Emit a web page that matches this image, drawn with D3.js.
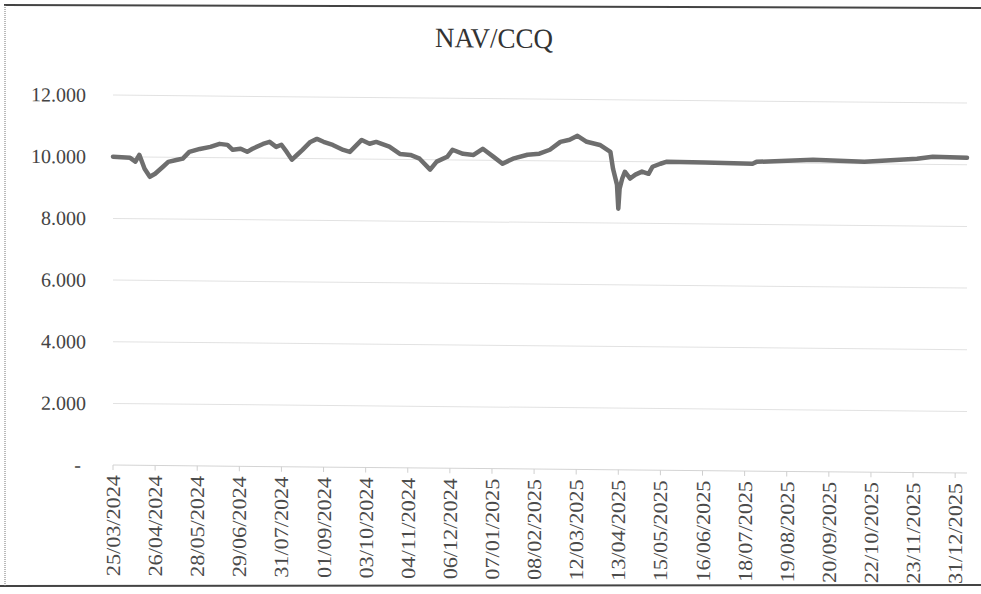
<!DOCTYPE html>
<html>
<head>
<meta charset="utf-8">
<script src="https://d3js.org/d3.v7.min.js"></script>
<style>
  body { margin: 0; background: #fff; }
  svg text { font-family: "Liberation Serif", "Times New Roman", serif; }
</style>
</head>
<body>
<script>
// x axis: one category per day, a label every 32 categories
var tickLabels = ["25/03/2024","26/04/2024","28/05/2024","29/06/2024","31/07/2024",
                  "01/09/2024","03/10/2024","04/11/2024","06/12/2024","07/01/2025",
                  "08/02/2025","12/03/2025","13/04/2025","15/05/2025","16/06/2025",
                  "18/07/2025","19/08/2025","20/09/2025","22/10/2025","23/11/2025",
                  "31/12/2025"];
var tickIdx = [0,32,64,96,128,160,192,224,256,288,320,352,384,416,448,480,512,544,576,608,640];
var yTicks = [0,2000,4000,6000,8000,10000,12000];

// NAV per fund certificate (category index, value)
var navIdx = [0,13,17,20,24,28,32,38,42,49,53,58,66,74,81,87,91,97,102,106,
              114,119,124,128,132,136,140,144,150,155,160,167,175,180,189,195,200,210,218,226,
              233,241,246,254,258,266,274,281,289,296,304,315,324,332,340,347,353,360,370,378,
              380,383,384,385,387,389,393,397,402,407,410,416,421,450,486,489,532,571,611,623,649];
var navVal = [10000,9970,9850,10070,9620,9360,9460,9690,9850,9920,9960,10180,10280,10350,10450,10420,10260,10300,10200,10300,
              10460,10530,10370,10440,10210,9960,10120,10280,10540,10640,10550,10450,10290,10230,10620,10500,10560,10410,10180,10150,
              10030,9680,9940,10100,10330,10200,10170,10370,10120,9890,10060,10190,10230,10360,10620,10690,10820,10630,10530,10310,
              9760,9250,8470,9120,9450,9670,9450,9580,9680,9610,9840,9940,10010,9990,9970,10030,10120,10070,10180,10250,10230];

(function(){
  var W = 981, H = 594;
  var pLeft = 113, pRight = 967, pTop = 95, pBottom = 465;

  var svg = d3.select("body").append("svg")
      .attr("width", W).attr("height", H);

  // frame of the scan
  svg.append("line").attr("x1", 4).attr("x2", 981).attr("y1", 5).attr("y2", 8)
    .attr("stroke", "#444").attr("stroke-width", 2);
  svg.append("line").attr("x1", 0).attr("x2", 981).attr("y1", 586).attr("y2", 585)
    .attr("stroke", "#444").attr("stroke-width", 2);
  svg.append("line").attr("x1", 5).attr("x2", 5).attr("y1", 5).attr("y2", 586)
    .attr("stroke", "#777").attr("stroke-width", 1).attr("stroke-dasharray", "1,1");

  // scanned page is slightly slanted
  var g = svg.append("g").attr("transform", "translate(0,-1) skewY(0.54)");

  var x = d3.scaleLinear().domain([0, 649]).range([pLeft, pRight]);
  var y = d3.scaleLinear().domain([0, 12000]).range([pBottom, pTop]);

  var fmt = d3.formatLocale({decimal: ",", thousands: ".", grouping: [3], currency: ["", ""]}).format(",");

  // title
  g.append("text")
    .attr("x", 494).attr("y", 44)
    .attr("text-anchor", "middle")
    .attr("font-size", 28)
    .attr("textLength", 118).attr("lengthAdjust", "spacingAndGlyphs")
    .attr("fill", "#333")
    .text("NAV/CCQ");

  // gridlines
  g.selectAll(".grid")
    .data(yTicks.filter(function(d){ return d > 0; }))
    .enter().append("line")
    .attr("class", "grid")
    .attr("x1", pLeft).attr("x2", pRight)
    .attr("y1", function(d){ return y(d); })
    .attr("y2", function(d){ return y(d); })
    .attr("stroke", "#e2e2e2").attr("stroke-width", 1);

  // y labels
  g.selectAll(".ylab")
    .data(yTicks)
    .enter().append("text")
    .attr("class", "ylab")
    .attr("x", function(d){ return d === 0 ? 81 : 86; })
    .attr("y", function(d){ return y(d); })
    .attr("dy", "0.35em")
    .attr("text-anchor", "end")
    .attr("font-size", 20)
    .attr("fill", "#444")
    .text(function(d){ return d === 0 ? "-" : fmt(d); });

  // x axis line and ticks
  g.append("line")
    .attr("x1", pLeft).attr("x2", pRight)
    .attr("y1", pBottom).attr("y2", pBottom)
    .attr("stroke", "#d4d4d4").attr("stroke-width", 1);

  g.selectAll(".xtick")
    .data(tickIdx)
    .enter().append("line")
    .attr("class", "xtick")
    .attr("x1", function(d){ return x(d); })
    .attr("x2", function(d){ return x(d); })
    .attr("y1", pBottom).attr("y2", pBottom + 5)
    .attr("stroke", "#cfcfcf");

  g.selectAll(".xlab")
    .data(tickIdx)
    .enter().append("text")
    .attr("class", "xlab")
    .attr("transform", function(d){ return "translate(" + x(d) + "," + (pBottom + 10) + ") rotate(-90)"; })
    .attr("dy", "0.35em")
    .attr("text-anchor", "end")
    .attr("font-size", 20)
    .attr("textLength", 101).attr("lengthAdjust", "spacingAndGlyphs")
    .attr("fill", "#4a4a4a")
    .text(function(d, i){ return tickLabels[i]; });

  // the NAV line
  var pts = navIdx.map(function(d, i){ return [d, navVal[i]]; });
  var line = d3.line()
    .x(function(d){ return x(d[0]); })
    .y(function(d){ return y(d[1]); });

  g.append("path")
    .datum(pts)
    .attr("d", line)
    .attr("fill", "none")
    .attr("stroke", "#6e6e6e")
    .attr("stroke-width", 4.5)
    .attr("stroke-linejoin", "round")
    .attr("stroke-linecap", "round");
})();
</script>
</body>
</html>
